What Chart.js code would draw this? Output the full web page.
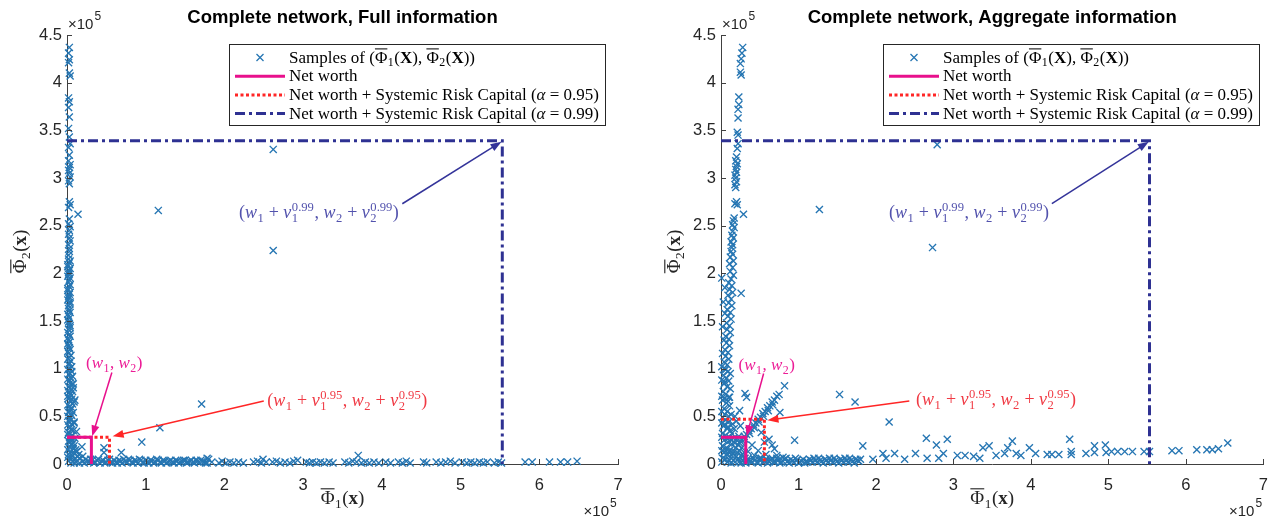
<!DOCTYPE html>
<html>
<head>
<meta charset="utf-8">
<script src="https://cdn.jsdelivr.net/npm/chart.js@4.4.1/dist/chart.umd.min.js"></script>
<style>
  html, body { margin: 0; padding: 0; background: #fff; }
  #wrap { position: relative; width: 1280px; height: 521px; }
  .pane { position: absolute; top: 0; width: 640px; height: 521px; }
</style>
</head>
<body>
<div id="wrap">
  <div class="pane" style="left:0"><canvas id="fullChart" width="640" height="521"></canvas></div>
  <div class="pane" style="left:640px"><canvas id="aggChart" width="640" height="521"></canvas></div>
</div>
<script>
// all values in units of 1e5
const xTicks = [0, 1, 2, 3, 4, 5, 6, 7];
const yTicks = [0, 0.5, 1, 1.5, 2, 2.5, 3, 3.5, 4, 4.5];

// ---- Full information ----
const fullNetWorth = [0.31, 0.28];   // [w1, w2]
const fullCap95 = [0.54, 0.28];
const fullCap99 = [5.53, 3.39];

const fullColumnTop = [[0.03,4.37],[0.02,4.31],[0.03,4.24],[0.02,4.21],[0.03,4.10],[0.04,4.07],[0.02,3.84],[0.03,3.80],[0.02,3.74],[0.03,3.64],[0.02,3.52],[0.03,3.43],[0.04,3.36],[0.02,3.32],[0.03,3.24],[0.02,3.18],[0.04,3.14],[0.03,3.11],[0.02,3.08],[0.03,3.05],[0.04,3.01],[0.02,2.97],[0.03,2.94],[0.03,2.75],[0.04,2.72],[0.02,2.69],[0.14,2.62],[0.03,2.57],[0.02,2.52],[0.04,2.49],[0.03,2.45],[0.02,2.41],[0.03,2.37],[0.04,2.34],[0.02,2.30],[0.03,2.26],[0.03,2.23],[0.02,2.19]];
const fullColumnLow = [[0.02,2.15],[0.03,2.11],[0.01,2.07],[0.03,2.03],[0.02,1.99],[0.04,1.95],[0.02,1.91],[0.03,1.86],[0.01,1.82],[0.03,1.78],[0.02,1.74],[0.04,1.70],[0.02,1.66],[0.03,1.61],[0.01,1.57],[0.03,1.53],[0.02,1.49],[0.04,1.45],[0.02,1.41],[0.03,1.36],[0.01,1.32],[0.03,1.28],[0.02,1.24],[0.04,1.20],[0.02,1.16],[0.03,1.12],[0.05,1.08],[0.02,1.04],[0.04,1.00],[0.06,0.97],[0.02,0.94],[0.05,0.90],[0.03,0.87],[0.07,0.84],[0.02,0.81],[0.05,0.78],[0.03,0.75],[0.06,0.72],[0.02,0.69],[0.04,0.66],[0.07,0.63],[0.03,0.60],[0.05,0.57],[0.02,0.54],[0.06,0.51],[0.04,0.48],[0.02,0.45],[0.06,0.42],[0.03,0.39],[0.05,0.36],[0.02,0.33],[0.07,0.30],[0.04,0.27],[0.02,0.24],[0.06,0.21],[0.03,0.18],[0.08,0.16],[0.05,0.13],[0.02,0.10],[0.10,0.11],[0.07,0.08],[0.04,0.06],[0.13,0.08],[0.02,0.03],[0.09,0.04],[0.16,0.06],[0.11,0.15],[0.08,0.22],[0.06,0.26],[0.20,0.08]];
const fullColumnFill = [[0.04,2.13],[0.01,2.09],[0.04,2.05],[0.02,2.01],[0.01,1.97],[0.03,1.93],[0.04,1.88],[0.01,1.84],[0.04,1.80],[0.02,1.76],[0.01,1.72],[0.04,1.68],[0.02,1.63],[0.04,1.59],[0.02,1.55],[0.01,1.51],[0.03,1.47],[0.04,1.43],[0.01,1.38],[0.04,1.34],[0.02,1.30],[0.01,1.26],[0.03,1.22],[0.01,1.18],[0.05,1.14],[0.01,1.10],[0.03,1.06],[0.06,1.02],[0.01,0.99],[0.04,0.95],[0.07,0.92],[0.01,0.89],[0.04,0.85],[0.08,0.80],[0.01,0.77],[0.07,0.76],[0.04,0.73],[0.01,0.71],[0.06,0.68],[0.09,0.65],[0.01,0.62],[0.06,0.59],[0.03,0.56],[0.08,0.54],[0.01,0.50],[0.05,0.46],[0.09,0.43],[0.01,0.41],[0.04,0.38],[0.08,0.35],[0.01,0.31],[0.05,0.29],[0.10,0.27],[0.03,0.22],[0.09,0.19],[0.01,0.15],[0.12,0.13],[0.06,0.10],[0.15,0.10],[0.01,0.07]];
const fullBandLow = [[0.05,0.01],[0.09,0.01],[0.12,0.02],[0.16,0.01],[0.20,0.03],[0.24,0.05],[0.28,0.02],[0.32,0.04],[0.36,0.02],[0.40,0.05],[0.44,0.03],[0.48,0.01],[0.52,0.04],[0.56,0.02],[0.60,0.04],[0.64,0.01],[0.68,0.03],[0.72,0.05],[0.76,0.02],[0.80,0.04],[0.84,0.01],[0.88,0.03],[0.92,0.05],[0.96,0.02],[1.00,0.04],[1.04,0.01],[1.08,0.03],[1.12,0.02],[1.16,0.04],[1.20,0.01],[1.24,0.03],[1.28,0.02],[1.32,0.04],[1.36,0.01],[1.40,0.03],[1.44,0.02],[1.48,0.04],[1.52,0.01],[1.56,0.03],[1.60,0.02],[1.64,0.04],[1.68,0.02],[1.72,0.03],[1.76,0.01],[1.80,0.05]];
const fullBandFill = [[0.22,0.01],[0.26,0.03],[0.30,0.05],[0.34,0.01],[0.38,0.04],[0.42,0.01],[0.46,0.04],[0.50,0.02],[0.54,0.05],[0.58,0.01],[0.62,0.02],[0.66,0.04],[0.70,0.01],[0.74,0.03],[0.78,0.05],[0.82,0.02],[0.86,0.04],[0.90,0.01],[0.94,0.04],[0.98,0.01],[1.02,0.02],[1.06,0.04],[1.10,0.01],[1.14,0.05],[1.18,0.02],[1.22,0.04],[1.26,0.01],[1.30,0.03],[1.34,0.02],[1.38,0.04],[1.42,0.01],[1.46,0.03],[1.50,0.04],[1.54,0.02],[1.58,0.04],[1.62,0.01],[1.66,0.03],[1.70,0.04],[1.74,0.02],[1.78,0.01]];
const fullBandHigh = [[1.84,0.02],[1.93,0.01],[1.97,0.03],[2.02,0.01],[2.07,0.02],[2.12,0.01],[2.18,0.02],[2.24,0.01],[2.37,0.02],[2.42,0.03],[2.47,0.01],[2.49,0.05],[2.53,0.02],[2.61,0.02],[2.66,0.03],[2.71,0.01],[2.77,0.02],[2.83,0.01],[2.88,0.03],[2.93,0.04],[3.04,0.02],[3.08,0.01],[3.12,0.02],[3.17,0.01],[3.22,0.02],[3.27,0.01],[3.33,0.02],[3.38,0.01],[3.53,0.02],[3.58,0.01],[3.63,0.03],[3.68,0.02],[3.74,0.01],[3.79,0.02],[3.84,0.01],[3.90,0.02],[3.96,0.01],[4.05,0.02],[4.11,0.01],[4.21,0.02],[4.26,0.01],[4.31,0.03],[4.36,0.01],[4.53,0.02],[4.57,0.01],[4.69,0.02],[4.75,0.01],[4.81,0.02],[4.87,0.03],[4.93,0.01],[5.02,0.02],[5.08,0.01],[5.13,0.02],[5.18,0.01],[5.24,0.02],[5.29,0.01],[5.34,0.02],[5.43,0.01],[5.48,0.02],[5.52,0.01],[5.82,0.02],[5.91,0.02],[6.13,0.02],[6.27,0.02],[6.36,0.02],[6.48,0.03]];
const fullOutliers = [[1.16,2.66],[2.62,3.30],[2.62,2.24],[1.71,0.63],[1.18,0.38],[0.95,0.23],[0.69,0.12],[0.47,0.17],[0.47,0.12],[0.19,0.18],[0.12,0.34],[0.09,0.44],[0.10,0.67],[0.08,0.84],[1.78,0.06],[3.70,0.09]];

// ---- Aggregate information ----
const aggNetWorth = [0.32, 0.28];
const aggCap95 = [0.56, 0.47];
const aggCap99 = [5.53, 3.39];

const aggColumnTop = [[0.28,4.37],[0.27,4.31],[0.26,4.25],[0.25,4.20],[0.25,4.11],[0.26,4.08],[0.23,3.85],[0.23,3.77],[0.22,3.72],[0.22,3.63],[0.21,3.48],[0.22,3.45],[0.22,3.36],[0.21,3.31],[0.20,3.22],[0.19,3.18],[0.21,3.15],[0.20,3.12],[0.19,3.09],[0.20,3.06],[0.18,3.03],[0.19,3.00],[0.20,2.96],[0.18,2.93],[0.19,2.90],[0.20,2.75],[0.18,2.73],[0.21,2.72],[0.29,2.62],[0.17,2.58],[0.16,2.55],[0.15,2.51],[0.17,2.48],[0.15,2.44],[0.14,2.40],[0.16,2.37],[0.13,2.33],[0.15,2.30],[0.14,2.27],[0.13,2.23],[0.15,2.20],[0.12,2.17]];
const aggColumnLow = [[0.16,2.13],[0.11,2.10],[0.15,2.06],[0.12,2.02],[0.16,1.98],[0.13,1.94],[0.10,1.90],[0.14,1.87],[0.11,1.83],[0.15,1.80],[0.09,1.77],[0.13,1.73],[0.10,1.69],[0.14,1.66],[0.08,1.62],[0.12,1.59],[0.09,1.55],[0.13,1.52],[0.07,1.48],[0.11,1.45],[0.08,1.41],[0.12,1.38],[0.06,1.34],[0.10,1.31],[0.07,1.27],[0.11,1.24],[0.05,1.20],[0.09,1.17],[0.06,1.13],[0.10,1.10],[0.04,1.07],[0.08,1.04],[0.05,1.00],[0.09,0.97],[0.12,0.95],[0.03,0.93],[0.07,0.90],[0.10,0.87],[0.04,0.84],[0.08,0.81],[0.12,0.79],[0.03,0.76],[0.06,0.73],[0.10,0.70],[0.02,0.67],[0.07,0.64],[0.11,0.61],[0.04,0.58],[0.08,0.55],[0.13,0.52],[0.02,0.49],[0.06,0.46],[0.10,0.44],[0.15,0.42],[0.03,0.40],[0.08,0.37],[0.12,0.35],[0.02,0.32],[0.06,0.30],[0.11,0.28],[0.04,0.25],[0.09,0.23],[0.14,0.21],[0.02,0.19],[0.07,0.17],[0.12,0.15],[0.17,0.13],[0.04,0.12],[0.09,0.10],[0.14,0.09],[0.20,0.08],[0.02,0.06],[0.06,0.05],[0.11,0.04],[0.16,0.04],[0.22,0.05],[0.26,0.09],[0.24,0.14],[0.19,0.17],[0.28,0.04],[0.18,0.22],[0.22,0.20],[0.25,0.24],[0.16,0.27],[0.21,0.12],[0.27,0.17],[0.30,0.12],[0.31,0.06],[0.18,0.02],[0.01,1.95],[0.05,1.85],[0.03,1.70],[0.05,1.58],[0.02,1.44],[0.04,1.30],[0.02,1.16],[0.01,1.02],[0.06,0.99],[0.01,0.88],[0.05,0.86],[0.01,0.71],[0.05,0.69],[0.09,0.66],[0.01,0.55],[0.05,0.52],[0.10,0.50],[0.01,0.43],[0.05,0.41],[0.09,0.39],[0.01,0.28],[0.08,0.27],[0.13,0.25],[0.01,0.14],[0.06,0.14],[0.10,0.13],[0.15,0.11],[0.01,0.02],[0.08,0.02],[0.13,0.01],[0.23,0.02],[0.26,0.01],[0.29,0.09],[0.33,0.03],[0.20,0.26],[0.23,0.29],[0.14,0.32],[0.17,0.37]];
const aggStreak = [[0.24,0.22],[0.27,0.25],[0.30,0.29],[0.33,0.31],[0.36,0.35],[0.39,0.37],[0.42,0.41],[0.45,0.43],[0.48,0.47],[0.51,0.49],[0.54,0.53],[0.57,0.55],[0.60,0.59],[0.63,0.61],[0.66,0.65],[0.69,0.67],[0.72,0.71],[0.75,0.73],[0.31,0.26],[0.37,0.32],[0.43,0.38],[0.49,0.44],[0.55,0.50],[0.61,0.56],[0.67,0.62]];
const aggNearCorner = [[0.26,1.79],[0.31,0.74],[0.33,0.70],[0.24,0.56],[0.11,0.70],[0.82,0.82],[0.76,0.54],[0.95,0.25],[0.62,0.26],[0.69,0.16],[0.48,0.14],[0.43,0.09],[0.56,0.23],[0.52,0.33],[0.66,0.20],[0.58,0.10],[0.40,0.20],[0.35,0.13],[0.72,0.09],[0.60,0.04],[0.50,0.06],[0.80,0.07],[0.20,0.45],[0.18,0.50],[0.25,0.40]];
const aggBandLow = [[0.30,0.02],[0.34,0.05],[0.38,0.03],[0.42,0.06],[0.46,0.02],[0.50,0.04],[0.54,0.02],[0.58,0.05],[0.62,0.03],[0.66,0.06],[0.70,0.02],[0.74,0.04],[0.78,0.02],[0.82,0.05],[0.86,0.03],[0.90,0.05],[0.94,0.02],[0.98,0.04],[1.02,0.02],[1.06,0.05],[1.10,0.03],[1.14,0.05],[1.18,0.02],[1.22,0.04],[1.26,0.06],[1.30,0.03],[1.34,0.05],[1.38,0.02],[1.42,0.04],[1.46,0.06],[1.50,0.03],[1.54,0.05],[1.58,0.02],[1.62,0.04],[1.66,0.06],[1.70,0.03],[1.74,0.05],[1.78,0.03]];
const aggBandFill = [[0.32,0.01],[0.36,0.04],[0.40,0.02],[0.44,0.04],[0.48,0.01],[0.52,0.06],[0.56,0.03],[0.60,0.01],[0.64,0.04],[0.68,0.02],[0.72,0.06],[0.76,0.01],[0.80,0.03],[0.84,0.06],[0.88,0.01],[0.92,0.03],[0.96,0.06],[1.00,0.01],[1.04,0.03],[1.08,0.01],[1.12,0.02],[1.16,0.04],[1.20,0.06],[1.24,0.02],[1.28,0.04],[1.32,0.01],[1.36,0.04],[1.40,0.06],[1.44,0.02],[1.48,0.04],[1.52,0.01],[1.56,0.04],[1.60,0.06],[1.64,0.02],[1.68,0.04],[1.72,0.01],[1.76,0.04],[1.80,0.05]];
const aggBandHigh = [[1.96,0.05],[2.09,0.11],[2.13,0.06],[2.24,0.11],[2.37,0.05],[2.51,0.11],[2.66,0.06],[2.81,0.06],[2.87,0.11],[3.05,0.09],[3.15,0.09],[3.26,0.08],[3.34,0.06],[3.38,0.17],[3.46,0.19],[3.55,0.09],[3.66,0.11],[3.70,0.17],[3.81,0.11],[3.87,0.09],[3.98,0.17],[4.06,0.11],[4.21,0.10],[4.27,0.10],[4.36,0.10],[4.52,0.10],[4.52,0.13],[4.71,0.11],[4.82,0.12],[4.97,0.12],[5.04,0.13],[5.12,0.13],[5.21,0.13],[5.31,0.13],[5.46,0.13],[5.53,0.13],[5.82,0.14],[5.91,0.14],[6.14,0.15],[6.27,0.15],[6.34,0.15],[6.42,0.16]];
const aggOutliers = [[1.27,2.67],[2.79,3.35],[2.73,2.27],[1.53,0.73],[1.73,0.65],[2.17,0.44],[1.83,0.19],[2.65,0.27],[2.78,0.20],[2.92,0.26],[3.76,0.24],[4.50,0.26],[4.82,0.19],[4.96,0.20],[6.54,0.22]];

const SAMPLE_COLOR = "#2676b3";
const NET_COLOR = "#e8108c";
const RED = "#ff2626";
const NAVY = "#2e3192";
const SERIF = '"Liberation Serif", "DejaVu Serif", serif';
const SANS = '"Liberation Sans", Arial, sans-serif';

// --- small rich text helper (sub/superscripts, overline) ---
const R = (t, o) => Object.assign({ t, f: "r" }, o);
const I = (t, o) => Object.assign({ t, f: "i" }, o);
const B = (t, o) => Object.assign({ t, f: "b" }, o);
const fontOf = (f, size) => (f === "i" ? "italic " : f === "b" ? "bold " : "") + size + "px " + SERIF;

function segWidth(ctx, s, size) {
  ctx.font = fontOf(s.f, size);
  const w = ctx.measureText(s.t).width;
  ctx.font = fontOf("r", size * 0.7);
  let sw = 0;
  if (s.sub) sw = Math.max(sw, ctx.measureText(s.sub).width);
  if (s.sup) sw = Math.max(sw, ctx.measureText(s.sup).width);
  return w + sw + (sw ? 1 : 0);
}
function drawRich(ctx, segs, x, y, size, color, align) {
  const total = segs.reduce((a, s) => a + segWidth(ctx, s, size), 0);
  let cx = align === "center" ? x - total / 2 : align === "right" ? x - total : x;
  ctx.fillStyle = color; ctx.strokeStyle = color;
  ctx.textAlign = "left"; ctx.textBaseline = "alphabetic";
  for (const s of segs) {
    ctx.font = fontOf(s.f, size);
    const w = ctx.measureText(s.t).width;
    ctx.fillText(s.t, cx, y);
    if (s.bar) {
      ctx.lineWidth = Math.max(1, size * 0.06);
      ctx.beginPath(); ctx.moveTo(cx, y - size * 0.8); ctx.lineTo(cx + w, y - size * 0.8); ctx.stroke();
    }
    ctx.font = fontOf("r", size * 0.7);
    let sw = 0;
    if (s.sub) { ctx.fillText(s.sub, cx + w + 0.5, y + size * 0.22); sw = Math.max(sw, ctx.measureText(s.sub).width); }
    if (s.sup) { ctx.fillText(s.sup, cx + w + 0.5, y - size * 0.42); sw = Math.max(sw, ctx.measureText(s.sup).width); }
    cx += w + sw + (sw ? 1 : 0);
  }
  return total;
}
function arrow(ctx, x0, y0, x1, y1, color) {
  const a = Math.atan2(y1 - y0, x1 - x0), L = 11, W = 4;
  const c = Math.cos(a), s = Math.sin(a);
  ctx.strokeStyle = color; ctx.fillStyle = color; ctx.lineWidth = 1.5; ctx.setLineDash([]);
  ctx.beginPath(); ctx.moveTo(x0, y0); ctx.lineTo(x1 - L * c * 0.8, y1 - L * s * 0.8); ctx.stroke();
  ctx.beginPath();
  ctx.moveTo(x1, y1);
  ctx.lineTo(x1 - L * c + W * s, y1 - L * s - W * c);
  ctx.lineTo(x1 - L * c - W * s, y1 - L * s + W * c);
  ctx.closePath(); ctx.fill();
}

const phiLabel = (n, boldChar) => [R("Φ", { bar: true, sub: n }), R("("), B(boldChar), R(")")];
const legendRows = [
  { kind: "marker", segs: [R("Samples of ("), R("Φ", { bar: true, sub: "1" }), R("("), B("X"), R("), "), R("Φ", { bar: true, sub: "2" }), R("("), B("X"), R("))")] },
  { kind: "line", color: NET_COLOR, dash: [], segs: [R("Net worth")] },
  { kind: "line", color: RED, dash: [3, 2.5], segs: [R("Net worth + Systemic Risk Capital ("), I("α"), R(" = 0.95)")] },
  { kind: "line", color: NAVY, dash: [10, 4, 3, 4], segs: [R("Net worth + Systemic Risk Capital ("), I("α"), R(" = 0.99)")] }
];
const ann99 = [R("("), I("w", { sub: "1" }), R(" + "), I("ν", { sub: "1", sup: "0.99" }), R(", "), I("w", { sub: "2" }), R(" + "), I("ν", { sub: "2", sup: "0.99" }), R(")")];
const ann95 = [R("("), I("w", { sub: "1" }), R(" + "), I("ν", { sub: "1", sup: "0.95" }), R(", "), I("w", { sub: "2" }), R(" + "), I("ν", { sub: "2", sup: "0.95" }), R(")")];
const annW = [R("("), I("w", { sub: "1" }), R(", "), I("w", { sub: "2" }), R(")")];

function decoPlugin(cfg) {
  return {
    id: "deco",
    afterDraw(chart) {
      const { ctx, chartArea: a, scales: { x, y } } = chart;
      ctx.save();
      // inward ticks (MATLAB style)
      ctx.strokeStyle = "#404040"; ctx.lineWidth = 1; ctx.setLineDash([]);
      ctx.beginPath();
      for (const v of yTicks) { const p = Math.round(y.getPixelForValue(v)) + 0.5; ctx.moveTo(a.left, p); ctx.lineTo(a.left + 5, p); }
      for (const v of xTicks) { const p = Math.round(x.getPixelForValue(v)) + 0.5; ctx.moveTo(p, a.bottom); ctx.lineTo(p, a.bottom - 5); }
      ctx.stroke();
      // title
      ctx.fillStyle = "#000"; ctx.font = "bold 18.5px " + SANS;
      ctx.textAlign = "center"; ctx.textBaseline = "middle";
      ctx.fillText(cfg.title, (a.left + a.right) / 2, 18);
      // exponent labels
      ctx.fillStyle = "#262626"; ctx.textBaseline = "alphabetic"; ctx.textAlign = "left";
      ctx.font = "15px " + SANS;
      const w = ctx.measureText("×10").width;
      ctx.fillText("×10", a.left + 1, 29);
      ctx.font = "12px " + SANS;
      ctx.fillText("5", a.left + 2 + w, 20);
      ctx.font = "15px " + SANS;
      const bx = a.right - 9 - w;
      ctx.fillText("×10", bx, 516);
      ctx.font = "12px " + SANS;
      ctx.fillText("5", bx + w + 1, 507);
      // axis labels
      drawRich(ctx, phiLabel("1", "x"), (a.left + a.right) / 2, 504, 19, "#262626", "center");
      ctx.save();
      ctx.translate(a.left - 47, (a.top + a.bottom) / 2 + 2);
      ctx.rotate(-Math.PI / 2);
      drawRich(ctx, phiLabel("2", "x"), 0, 6, 19, "#262626", "center");
      ctx.restore();
      // legend
      const lx = a.left + 162, ly = 44, lw = 376, lh = 81;
      ctx.fillStyle = "#fff"; ctx.fillRect(lx, ly, lw, lh);
      ctx.strokeStyle = "#262626"; ctx.lineWidth = 1; ctx.strokeRect(lx + 0.5, ly + 0.5, lw, lh);
      legendRows.forEach((row, i) => {
        const ry = ly + 13.5 + i * 18.7;
        if (row.kind === "marker") {
          ctx.strokeStyle = SAMPLE_COLOR; ctx.lineWidth = 1.3; ctx.setLineDash([]);
          const mx = lx + 31, d = 3.5;
          ctx.beginPath(); ctx.moveTo(mx - d, ry - d); ctx.lineTo(mx + d, ry + d); ctx.moveTo(mx - d, ry + d); ctx.lineTo(mx + d, ry - d); ctx.stroke();
        } else {
          ctx.strokeStyle = row.color; ctx.lineWidth = 3; ctx.setLineDash(row.dash);
          ctx.beginPath(); ctx.moveTo(lx + 6, ry); ctx.lineTo(lx + 56, ry); ctx.stroke();
          ctx.setLineDash([]);
        }
        drawRich(ctx, row.segs, lx + 60, ry + 5, 17, "#000", "left");
      });
      // annotations with arrows
      for (const an of cfg.annotations) {
        const tx = x.getPixelForValue(an.text[0]), ty = y.getPixelForValue(an.text[1]);
        drawRich(ctx, an.segs, tx, ty + 5, an.size, an.color, "center");
        arrow(ctx, x.getPixelForValue(an.tail[0]), y.getPixelForValue(an.tail[1]),
          x.getPixelForValue(an.head[0]), y.getPixelForValue(an.head[1]), an.arrow);
      }
      ctx.restore();
    }
  };
}

const toPts = arr => arr.map(p => ({ x: p[0], y: p[1] }));
const corner = c => [{ x: 0, y: c[1] }, { x: c[0], y: c[1] }, { x: c[0], y: 0 }];
const pathDataset = (c, color, dash) => ({
  data: corner(c), showLine: true, borderColor: color, borderWidth: 3, borderDash: dash,
  pointRadius: 0, pointHoverRadius: 0, fill: false, order: 0
});

function makeChart(id, cfg) {
  return new Chart(document.getElementById(id), {
    type: "scatter",
    data: {
      datasets: [
        pathDataset(cfg.net, NET_COLOR, []),
        pathDataset(cfg.cap95, RED, [3, 2.5]),
        pathDataset(cfg.cap99, NAVY, [10, 4, 3, 4]),
        {
          data: toPts(cfg.samples), pointStyle: "crossRot", pointRadius: 5, pointBorderWidth: 1.35,
          pointBorderColor: SAMPLE_COLOR, pointBackgroundColor: SAMPLE_COLOR, pointHoverRadius: 5,
          clip: false, order: 5
        }
      ]
    },
    options: {
      responsive: false,
      animation: false,
      events: [],
      layout: { padding: { left: 0, right: cfg.padRight, top: 35, bottom: 0 } },
      plugins: { legend: { display: false }, tooltip: { enabled: false }, title: { display: false } },
      scales: {
        x: {
          type: "linear", min: xTicks[0], max: xTicks[xTicks.length - 1],
          afterFit: s => { s.height = 57; },
          afterBuildTicks: s => { s.ticks = xTicks.map(v => ({ value: v })); },
          grid: { display: false, drawTicks: false },
          border: { display: true, color: "#404040", width: 1 },
          ticks: { maxRotation: 0, autoSkip: false, padding: 12, color: "#262626",
            font: { family: SANS, size: 16.5 }, callback: v => String(v) }
        },
        y: {
          type: "linear", min: yTicks[0], max: yTicks[yTicks.length - 1],
          afterFit: s => { s.width = cfg.left; },
          afterBuildTicks: s => { s.ticks = yTicks.map(v => ({ value: v })); },
          grid: { display: false, drawTicks: false },
          border: { display: true, color: "#404040", width: 1 },
          ticks: { autoSkip: false, padding: 5, color: "#262626",
            font: { family: SANS, size: 16.5 }, callback: v => String(v) }
        }
      }
    },
    plugins: [decoPlugin(cfg)]
  });
}

makeChart("fullChart", {
  title: "Complete network, Full information",
  left: 67, padRight: 22,
  net: fullNetWorth, cap95: fullCap95, cap99: fullCap99,
  samples: [...fullColumnTop, ...fullColumnLow, ...fullColumnFill, ...fullBandLow, ...fullBandFill, ...fullBandHigh, ...fullOutliers],
  annotations: [
    { segs: ann99, size: 18, color: "#5252ad", text: [3.2, 2.63], tail: [4.26, 2.73], head: [5.52, 3.38], arrow: "#34349a" },
    { segs: annW, size: 17, color: "#ec1c96", text: [0.60, 1.06], tail: [0.57, 0.96], head: [fullNetWorth[0] + 0.01, fullNetWorth[1] + 0.01], arrow: NET_COLOR },
    { segs: ann95, size: 18, color: "#f03a44", text: [3.56, 0.66], tail: [2.50, 0.66], head: [fullCap95[0] + 0.04, fullCap95[1] + 0.01], arrow: RED }
  ]
});

makeChart("aggChart", {
  title: "Complete network, Aggregate information",
  left: 81, padRight: 10,
  net: aggNetWorth, cap95: aggCap95, cap99: aggCap99,
  samples: [...aggColumnTop, ...aggColumnLow, ...aggStreak, ...aggNearCorner, ...aggBandLow, ...aggBandFill, ...aggBandHigh, ...aggOutliers],
  annotations: [
    { segs: ann99, size: 18, color: "#5252ad", text: [3.2, 2.63], tail: [4.27, 2.73], head: [5.52, 3.38], arrow: "#34349a" },
    { segs: annW, size: 17, color: "#ec1c96", text: [0.59, 1.04], tail: [0.55, 0.95], head: [aggNetWorth[0] + 0.01, aggNetWorth[1] + 0.01], arrow: NET_COLOR },
    { segs: ann95, size: 18, color: "#f03a44", text: [3.55, 0.67], tail: [2.43, 0.66], head: [aggCap95[0] + 0.04, aggCap95[1] - 0.01], arrow: RED }
  ]
});
</script>
</body>
</html>
